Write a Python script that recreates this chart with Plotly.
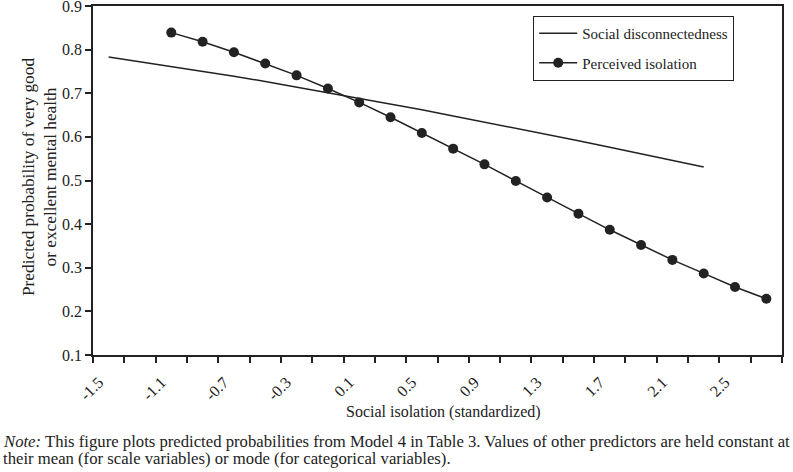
import plotly.graph_objects as go

# Data
social_x = [-1.5, -1.3, -1.1, -0.9, -0.7, -0.5, -0.3, -0.1, 0.1, 0.3,
            0.5, 0.7, 0.9, 1.1, 1.3, 1.5, 1.7, 1.9, 2.1, 2.3]
social_y = [0.783, 0.772, 0.762, 0.750, 0.739, 0.727, 0.714, 0.702, 0.689, 0.676,
            0.662, 0.648, 0.634, 0.620, 0.606, 0.591, 0.576, 0.561, 0.546, 0.531]
perceived_x = [-1.1, -0.9, -0.7, -0.5, -0.3, -0.1, 0.1, 0.3, 0.5, 0.7,
               0.9, 1.1, 1.3, 1.5, 1.7, 1.9, 2.1, 2.3, 2.5, 2.7]
perceived_y = [0.839, 0.818, 0.794, 0.768, 0.741, 0.711, 0.679, 0.645, 0.609, 0.573,
               0.537, 0.499, 0.461, 0.424, 0.387, 0.352, 0.318, 0.287, 0.256, 0.229]
x_tick_vals = [-1.5, -1.1, -0.7, -0.3, 0.1, 0.5, 0.9, 1.3, 1.7, 2.1, 2.5]
x_tick_text = ["-1.5", "-1.1", "-0.7", "-0.3", "0.1", "0.5", "0.9", "1.3", "1.7", "2.1", "2.5"]
y_tick_vals = [0.1, 0.2, 0.3, 0.4, 0.5, 0.6, 0.7, 0.8, 0.9]

FONT = "Liberation Serif, Times New Roman, serif"
INK = "#222"

fig = go.Figure()
fig.add_trace(go.Scatter(x=social_x, y=social_y, mode="lines",
                         name="Social disconnectedness", legendgroup="a",
                         line=dict(color=INK, width=1.5)))
fig.add_trace(go.Scatter(x=perceived_x, y=perceived_y, mode="lines+markers",
                         name="Perceived isolation", legendgroup="b",
                         line=dict(color=INK, width=1.5),
                         marker=dict(color=INK, size=10)))

fig.update_layout(
    width=793, height=472,
    margin=dict(l=93, r=11, t=6, b=117),
    paper_bgcolor="white", plot_bgcolor="white",
    font=dict(family=FONT, size=16, color=INK),
    showlegend=True,
    legend=dict(x=0.6386, y=0.972, xanchor="left", yanchor="top",
                bordercolor=INK, borderwidth=1.2, bgcolor="white",
                font=dict(family=FONT, size=15, color=INK),
                itemwidth=38, tracegroupgap=7, traceorder="grouped"),
    xaxis=dict(range=[-1.6, 2.8], tickmode="array", tickvals=x_tick_vals,
               ticktext=x_tick_text, tickangle=-45, ticks="",
               ticklabelshift=-10, ticklabelstandoff=10,
               showgrid=False, zeroline=False, automargin=False,
               showline=True, linecolor=INK, linewidth=1.5, mirror=True,
               tickfont=dict(family=FONT, size=16, color=INK),
               minor=dict(ticks="outside", tickmode="linear", tick0=-1.6, dtick=0.2,
                          ticklen=6, tickcolor=INK, tickwidth=1.5, showgrid=False)),
    yaxis=dict(range=[0.1, 0.9], tickmode="array", tickvals=y_tick_vals,
               ticktext=[f"{v:.1f}" for v in y_tick_vals],
               ticks="outside", ticklen=6, tickcolor=INK, tickwidth=1.5,
               ticklabeloverflow="allow",
               showgrid=False, zeroline=False, automargin=False,
               showline=True, linecolor=INK, linewidth=1.5, mirror=True,
               tickfont=dict(family=FONT, size=16, color=INK)),
    annotations=[
        dict(text="Predicted probability of very good<br>or excellent mental health",
             textangle=-90, x=-0.0784, y=0.51, xref="paper", yref="paper",
             xanchor="center", yanchor="middle", showarrow=False,
             font=dict(family=FONT, size=17.3, color=INK)),
        dict(text="Social isolation (standardized)", x=0.508, y=-0.162,
             xref="paper", yref="paper", xanchor="center", yanchor="middle",
             showarrow=False, font=dict(family=FONT, size=16, color=INK)),
        dict(text="<i>Note:</i> This figure plots predicted probabilities from Model 4 in Table 3. "
                  "Values of other predictors are held constant at",
             x=-0.1335, y=-0.247, xref="paper", yref="paper", xanchor="left",
             yanchor="middle", showarrow=False,
             font=dict(family=FONT, size=16.7, color=INK)),
        dict(text="their mean (for scale variables) or mode (for categorical variables).",
             x=-0.1335, y=-0.296, xref="paper", yref="paper", xanchor="left",
             yanchor="middle", showarrow=False,
             font=dict(family=FONT, size=16.7, color=INK)),
    ],
)

fig.write_html("out.html", config={"displayModeBar": False},
               post_script="document.body.style.margin='0';document.body.style.overflow='hidden';")
